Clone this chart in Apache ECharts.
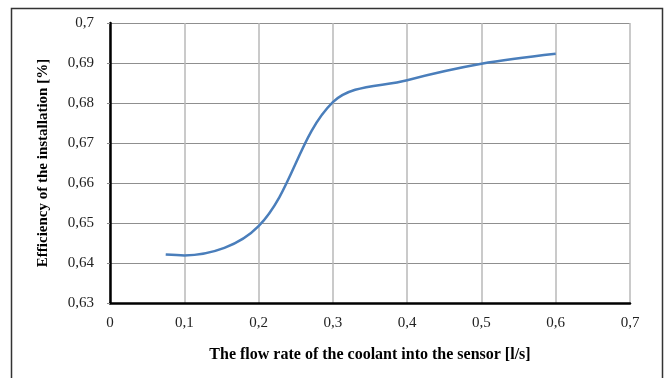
<!DOCTYPE html>
<html>
<head>
<meta charset="utf-8">
<script src="https://cdn.jsdelivr.net/npm/echarts@6/dist/echarts.min.js"></script>
<style>
  html, body { margin: 0; padding: 0; background: #fff; }
  #chart { width: 667px; height: 378px; }
</style>
</head>
<body>
<div id="chart"></div>
<script>
// Coolant flow rate into the sensor, l/s
const flowRate = [0.075, 0.1, 0.2, 0.3, 0.4, 0.5, 0.6];
// Efficiency of the installation at each flow rate
const efficiency = [0.6421, 0.6419, 0.6492, 0.6802, 0.6857, 0.6898, 0.6923];

const xTitle = 'The flow rate of the coolant into the sensor [l/s]';
const yTitle = 'Efficiency of the installation [%]';

// decimal comma labels: 0,1  0,63  0,7
const commaFmt = v => String(+(+v).toFixed(2)).replace('.', ',');

const chart = echarts.init(document.getElementById('chart'), null, { renderer: 'canvas' });

const serif = '"Liberation Serif", "DejaVu Serif", serif';

chart.setOption({
  animation: false,
  backgroundColor: '#ffffff',
  graphic: [{
    type: 'rect',
    shape: { x: 11.5, y: 8.5, width: 651, height: 400 },
    style: { fill: 'none', stroke: '#333333', lineWidth: 1.5 },
    silent: true,
    z: -1
  }],
  grid: { left: 110, right: 37, top: 23, bottom: 75, containLabel: false },
  xAxis: {
    type: 'value',
    min: 0, max: 0.7, interval: 0.1,
    name: xTitle,
    nameLocation: 'middle',
    nameGap: 44,
    nameTextStyle: { fontFamily: serif, fontWeight: 'bold', fontSize: 16, color: '#000' },
    axisLine: { show: true, onZero: false, lineStyle: { color: '#000', width: 2.5 } },
    axisTick: { show: false },
    axisLabel: { formatter: commaFmt, fontFamily: serif, fontSize: 15, color: '#222', margin: 13 },
    splitLine: { show: true, lineStyle: { color: '#b8b8b8', width: 1.5 } }
  },
  yAxis: {
    type: 'value',
    min: 0.63, max: 0.7, interval: 0.01,
    name: yTitle,
    nameLocation: 'middle',
    nameGap: 59,
    nameTextStyle: { fontFamily: serif, fontWeight: 'bold', fontSize: 15, color: '#000' },
    axisLine: { show: true, onZero: false, lineStyle: { color: '#000', width: 2.5 } },
    axisTick: { show: true, length: 3, lineStyle: { color: '#8a8a8a' } },
    axisLabel: { formatter: commaFmt, fontFamily: serif, fontSize: 15, color: '#222', margin: 16 },
    splitLine: { show: true, lineStyle: { color: '#8f8f8f', width: 1 } }
  },
  series: [{
    type: 'line',
    data: flowRate.map((x, i) => [x, efficiency[i]]),
    smooth: 0.35,
    showSymbol: false,
    lineStyle: { color: '#4a7ebb', width: 2.5 },
    z: 5
  }]
});
</script>
</body>
</html>
